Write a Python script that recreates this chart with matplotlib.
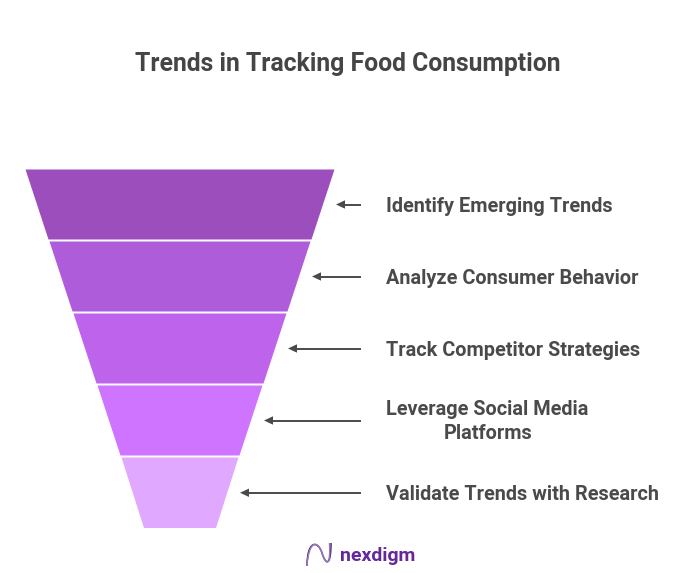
import matplotlib
matplotlib.use("Agg")
import matplotlib.pyplot as plt
from matplotlib.patches import Polygon
from matplotlib.path import Path
from matplotlib.patches import PathPatch

plt.rcParams['font.family'] = ['Roboto', 'DejaVu Sans']

title = "Trends in Tracking Food Consumption"
stages = ["Identify Emerging Trends", "Analyze Consumer Behavior", "Track Competitor Strategies",
          "Leverage Social Media\nPlatforms", "Validate Trends with Research"]
top_widths = [309, 261, 213, 165, 117]
bottom_widths = [263, 215, 167, 119, 72]
colors = ["#9C4FBC", "#AF5CDB", "#BE63EC", "#CE74FE", "#E0A8FE"]

W, H = 684, 573
fig = plt.figure(figsize=(W / 100, H / 100), dpi=100)
ax = fig.add_axes([0, 0, 1, 1])
ax.set_xlim(0, W)
ax.set_ylim(H, 0)
ax.axis("off")

cx = 180
y_top = 169.5
band_h = 70
band_gap = 2
dark = "#4A4A4A"
label_x = 386
line_end = 361
fs = 14.35

for i, (s, tw, bw, c) in enumerate(zip(stages, top_widths, bottom_widths, colors)):
    y0 = y_top + i * (band_h + band_gap)
    y1 = y0 + band_h + (0.5 if i == 4 else 0)
    ax.add_patch(Polygon([(cx - tw / 2, y0), (cx + tw / 2, y0), (cx + bw / 2, y1), (cx - bw / 2, y1)],
                         closed=True, facecolor=c, edgecolor="none"))
    ym = (y0 + y1) / 2
    tip = cx + tw / 2 + 1.5
    ax.plot([tip + 6, line_end], [ym, ym], color=dark, lw=1.4, solid_capstyle="butt")
    ax.add_patch(Polygon([(tip, ym), (tip + 9, ym - 4.2), (tip + 9, ym + 4.2)], closed=True,
                         facecolor=dark, edgecolor="none"))
    if "\n" in s:
        a, b = s.split("\n")
        ax.text(label_x, ym - 11, a, fontsize=fs, fontweight="bold", color=dark, ha="left", va="center")
        ax.text(label_x + 58, ym + 13, b, fontsize=fs, fontweight="bold", color=dark, ha="left", va="center")
    else:
        ax.text(label_x, ym + 1.5, s, fontsize=fs, fontweight="bold", color=dark, ha="left", va="center")

ax.text(347.5, 64, title, fontsize=17.85, fontweight="bold", color="#454545", ha="center", va="center")

# logo
ax.text(340, 556, "nexdigm", fontsize=14, fontweight="bold", color="#64289A", ha="left", va="center")
for off, col in [(0, "#3A1F66"), (1.5, "#9A78C0")]:
    verts = [(307, 566), (307 + off, 540), (318, 540), (322, 553), (326, 566), (331, 566), (331 - off, 543)]
    codes = [Path.MOVETO, Path.CURVE4, Path.CURVE4, Path.CURVE4, Path.CURVE4, Path.CURVE4, Path.CURVE4]
    ax.add_patch(PathPatch(Path(verts, codes), facecolor="none", edgecolor=col, lw=1.1))

fig.savefig("out.png", dpi=100, facecolor="white")
